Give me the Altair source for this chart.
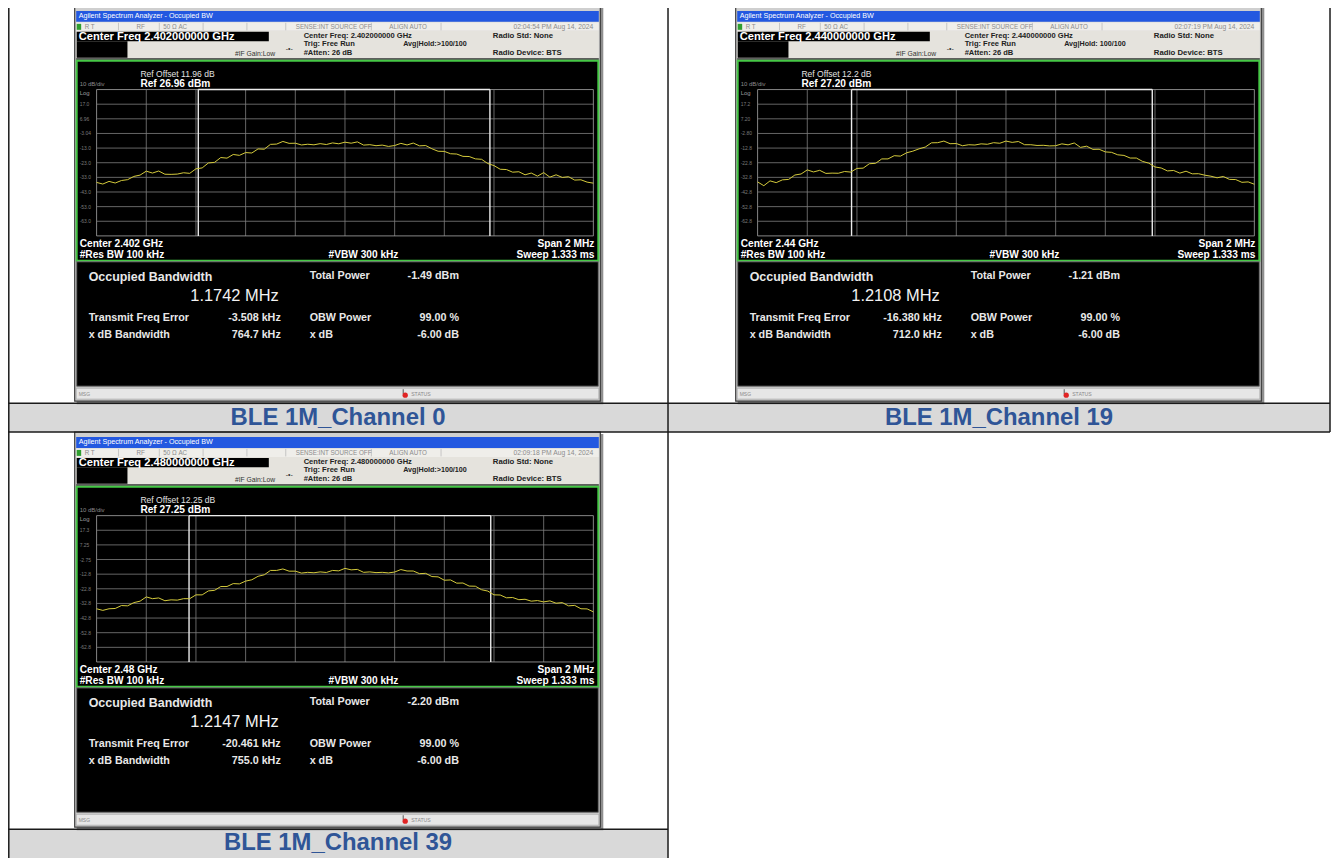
import altair as alt
import pandas as pd

# ---------------- data ----------------
captions = ["BLE 1M_Channel 0", "BLE 1M_Channel 19", "BLE 1M_Channel 39"]
center_freq = ["2.402000000 GHz", "2.440000000 GHz", "2.480000000 GHz"]
center_short = ["2.402 GHz", "2.44 GHz", "2.48 GHz"]
ref_offset_db = ["11.96", "12.2", "12.25"]
ref_level_dbm = [26.96, 27.20, 27.25]
ref_level_text = ["26.96", "27.20", "27.25"]
timestamps = ["02:04:54 PM Aug 14, 2024", "02:07:19 PM Aug 14, 2024", "02:09:18 PM Aug 14, 2024"]
avg_hold = ["Avg|Hold:>100/100", "Avg|Hold: 100/100", "Avg|Hold:>100/100"]
obw_mhz = [1.1742, 1.2108, 1.2147]
obw_text = ["1.1742 MHz", "1.2108 MHz", "1.2147 MHz"]
total_power = ["-1.49 dBm", "-1.21 dBm", "-2.20 dBm"]
freq_error_khz = [-3.508, -16.380, -20.461]
freq_error_text = ["-3.508 kHz", "-16.380 kHz", "-20.461 kHz"]
xdb_bandwidth = ["764.7 kHz", "712.0 kHz", "755.0 kHz"]
obw_power = ["99.00 %", "99.00 %", "99.00 %"]
xdb_value = ["-6.00 dB", "-6.00 dB", "-6.00 dB"]
ylabels_ch0 = ["17.0", "6.96", "-3.04", "-13.0", "-23.0", "-33.0", "-43.0", "-53.0", "-63.0"]
ylabels_ch19 = ["17.2", "7.20", "-2.80", "-12.8", "-22.8", "-32.8", "-42.8", "-52.8", "-62.8"]
ylabels_ch39 = ["17.3", "7.25", "-2.75", "-12.8", "-22.8", "-32.8", "-42.8", "-52.8", "-62.8"]

# frequency offset from centre (MHz), span 2 MHz
freq_offset_mhz = [round(-1 + 0.025 * i, 3) for i in range(81)]

trace_ch0 = [-36.5, -37.6, -35.8, -36.9, -35.2, -34.6, -32.4, -31.5, -28.8, -30.1,
             -28.7, -30.9, -31.0, -30.8, -29.9, -30.3, -27.2, -26.6, -23.2, -22.8,
             -19.5, -19.9, -17.4, -18.0, -16.1, -16.4, -13.6, -13.8, -10.5, -10.3,
             -8.5, -9.8, -9.7, -10.9, -10.4, -10.8, -10.0, -10.6, -9.5, -10.1,
             -9.0, -9.7, -8.8, -11.0, -10.7, -11.4, -11.0, -11.9, -11.3, -9.8,
             -10.9, -9.6, -11.5, -11.3, -13.5, -15.2, -15.3, -16.9, -17.1, -18.7,
             -18.8, -20.4, -20.7, -23.6, -25.0, -27.5, -27.7, -29.5, -29.2, -31.3,
             -30.1, -32.2, -29.8, -32.9, -31.3, -33.1, -32.6, -34.9, -34.7, -36.3,
             -37.0]
trace_ch19 = [-35.9, -38.5, -35.2, -36.4, -34.5, -34.2, -31.2, -30.5, -27.7, -29.1,
              -28.0, -30.1, -29.9, -30.0, -28.8, -29.2, -26.7, -26.5, -23.5, -23.2,
              -20.2, -20.2, -18.0, -18.3, -16.0, -14.9, -13.3, -12.1, -9.2, -9.1,
              -8.0, -9.8, -9.7, -11.2, -10.5, -10.7, -9.9, -10.2, -9.1, -9.5,
              -8.0, -8.9, -8.3, -10.5, -10.5, -11.0, -10.9, -11.3, -11.2, -9.9,
              -10.6, -9.3, -12.3, -11.5, -13.7, -13.6, -15.4, -15.7, -17.4, -17.8,
              -19.6, -19.6, -21.9, -23.1, -25.7, -26.4, -28.4, -28.1, -29.9, -28.6,
              -30.4, -30.3, -31.3, -32.0, -33.1, -32.2, -34.2, -34.3, -36.2, -35.9,
              -37.5]
trace_ch39 = [-36.4, -37.5, -36.4, -36.2, -34.2, -34.4, -32.2, -31.2, -28.3, -29.5,
              -29.0, -30.9, -30.3, -30.5, -29.5, -29.5, -26.9, -26.9, -24.2, -23.8,
              -21.2, -21.2, -19.2, -19.4, -17.5, -16.6, -14.2, -13.2, -10.2, -10.2,
              -9.2, -10.7, -10.7, -12.0, -11.5, -11.8, -11.2, -11.6, -10.2, -10.5,
              -8.8, -9.8, -9.5, -11.5, -11.2, -11.7, -11.5, -11.9, -11.3, -9.6,
              -10.6, -10.6, -12.4, -12.2, -14.4, -14.6, -16.9, -16.7, -18.9, -18.8,
              -20.9, -21.0, -23.4, -24.3, -26.9, -27.0, -28.9, -28.7, -30.2, -29.9,
              -31.2, -30.8, -31.7, -31.0, -32.6, -32.2, -34.4, -34.1, -36.4, -36.5,
              -38.5]

traces = [trace_ch0, trace_ch19, trace_ch39]
ylabels = [ylabels_ch0, ylabels_ch19, ylabels_ch39]

# ---------------- layout ----------------
OFF = 8  # page margin
FONT = "Liberation Sans, Arial, Helvetica, sans-serif"
rects, rules, texts, dots = [], [], [], []


def R(x, x2, y, y2, fill, stroke="transparent", sw=0):
    rects.append(dict(x=x - OFF, x2=x2 - OFF, y=y - OFF, y2=y2 - OFF,
                      fill=fill, stroke=stroke, sw=sw))


def L(x, x2, y, y2, color, sw=1.0):
    rules.append(dict(x=x - OFF, x2=x2 - OFF, y=y - OFF, y2=y2 - OFF, color=color, sw=sw))


def T(x, y, text, size, color, align="left", weight="normal"):
    texts.append(dict(x=x - OFF, y=y - OFF, text=text, size=size, color=color,
                      align=align, weight=weight))


# table
R(8, 1336, 403, 432, "#d9d9d9")
R(8, 671, 831, 860, "#d9d9d9")

panel_layers = []


def screen(i, ox, oy):
    # frame + shadow
    R(ox + 2, ox + 531, oy + 2, oy + 400, "#8f8f8f")
    R(ox, ox + 528, oy, oy + 397, "#cfcfcf", "#3c3c3c", 1.2)
    # title bar
    R(ox + 1.5, ox + 526.5, oy + 5, oy + 16, "#2358e0")
    T(ox + 4, oy + 10.5, "Agilent Spectrum Analyzer - Occupied BW", 7.2, "#ffffff")
    # status row
    R(ox + 1.5, ox + 526.5, oy + 16.5, oy + 25, "#efeeea")
    R(ox + 2, ox + 6.5, oy + 18, oy + 24, "#2f9e2f")
    for sx in [44, 85, 129, 173, 212, 298, 368]:
        L(ox + sx, ox + sx, oy + 17, oy + 24.5, "#b4b4b4", 0.7)
    sc = "#8c8c8c"
    T(ox + 10, oy + 21, "R   T", 6.3, sc)
    T(ox + 62, oy + 21, "RF", 6.3, sc)
    T(ox + 89, oy + 21, "50 Ω   AC", 6.3, sc)
    T(ox + 222, oy + 21, "SENSE:INT SOURCE OFF", 6.3, sc)
    T(ox + 316, oy + 21, "ALIGN AUTO", 6.3, sc)
    T(ox + 521, oy + 21, timestamps[i], 6.8, sc, "right")
    # header
    R(ox + 1.5, ox + 526.5, oy + 25, oy + 53, "#e5e3dd")
    R(ox + 2, ox + 195, oy + 26, oy + 35.5, "#000000")
    T(ox + 4, oy + 31, "Center Freq " + center_freq[i], 11.2, "#ffffff", weight="bold")
    R(ox + 2, ox + 53, oy + 35.5, oy + 52, "#000000")
    hc = "#222222"
    T(ox + 161, oy + 48.5, "#IF Gain:Low", 6.8, "#333333")
    T(ox + 212, oy + 43, "-•-", 7, "#333333")
    T(ox + 230, oy + 30, "Center Freq: " + center_freq[i], 7.6, hc, weight="bold")
    T(ox + 230, oy + 38.5, "Trig: Free Run", 7.6, hc, weight="bold")
    T(ox + 230, oy + 47, "#Atten: 26 dB", 7.6, hc, weight="bold")
    T(ox + 330, oy + 38.5, avg_hold[i], 7.2, hc, weight="bold")
    T(ox + 420, oy + 30, "Radio Std: None", 7.8, hc, weight="bold")
    T(ox + 420, oy + 47, "Radio Device: BTS", 7.8, hc, weight="bold")
    # plot area
    R(ox + 1.5, ox + 526.5, oy + 52.5, oy + 54, "#333333")
    R(ox + 2, ox + 526, oy + 55, oy + 256, "#000000", "#46c846", 2)
    T(ox + 66, oy + 68, "Ref Offset " + ref_offset_db[i] + " dB", 8.6, "#e0e0e0")
    T(ox + 66, oy + 78, "Ref " + ref_level_text[i] + " dBm", 10.2, "#ffffff", weight="bold")
    T(ox + 5, oy + 78, "10 dB/div", 6, "#8a8a8a")
    T(ox + 5, oy + 87, "Log", 6, "#9a9a9a")
    gx0, gx1, gy0, gy1 = ox + 22, ox + 521, oy + 84, oy + 231
    for k in range(11):
        xx = gx0 + k * (gx1 - gx0) / 10
        yy = gy0 + k * (gy1 - gy0) / 10
        col = "#a8a8a8" if k in (0, 10) else "#808080"
        L(xx, xx, gy0, gy1, col, 0.8)
        L(gx0, gx1, yy, yy, col, 0.8)
    for k, lab in enumerate(ylabels[i], start=1):
        T(ox + 5, gy0 + k * (gy1 - gy0) / 10, lab, 5, "#7a7a7a")
    T(ox + 5, oy + 239, "Center  " + center_short[i], 10.2, "#ffffff", weight="bold")
    T(ox + 5, oy + 250, "#Res BW  100 kHz", 10.2, "#ffffff", weight="bold")
    T(ox + 255, oy + 250, "#VBW  300 kHz", 10.2, "#ffffff", weight="bold")
    T(ox + 522, oy + 239, "Span 2 MHz", 10.2, "#ffffff", "right", "bold")
    T(ox + 522, oy + 250, "Sweep  1.333 ms", 10.2, "#ffffff", "right", "bold")
    # info panel
    R(ox + 2, ox + 526, oy + 257, oy + 382, "#000000", "#6e6e6e", 1)
    ic = "#e8e8e8"
    T(ox + 14, oy + 272, "Occupied Bandwidth", 12.5, ic, weight="bold")
    T(ox + 205, oy + 291, obw_text[i], 16.5, "#f2f2f2", "right")
    T(ox + 236, oy + 271, "Total Power", 10.8, ic, weight="bold")
    T(ox + 386, oy + 271, total_power[i], 10.8, ic, "right", "bold")
    T(ox + 14, oy + 313, "Transmit Freq Error", 10.8, ic, weight="bold")
    T(ox + 207, oy + 313, freq_error_text[i], 10.8, ic, "right", "bold")
    T(ox + 236, oy + 313, "OBW Power", 10.8, ic, weight="bold")
    T(ox + 386, oy + 313, obw_power[i], 10.8, ic, "right", "bold")
    T(ox + 14, oy + 331, "x dB Bandwidth", 10.8, ic, weight="bold")
    T(ox + 207, oy + 331, xdb_bandwidth[i], 10.8, ic, "right", "bold")
    T(ox + 236, oy + 331, "x dB", 10.8, ic, weight="bold")
    T(ox + 386, oy + 331, xdb_value[i], 10.8, ic, "right", "bold")
    # message bar
    R(ox + 1.5, ox + 526.5, oy + 384, oy + 395, "#e6e6e6", "#9a9a9a", 0.6)
    T(ox + 4, oy + 389.5, "MSG", 5, "#8a8a8a")
    T(ox + 338, oy + 389.5, "STATUS", 5.2, "#8a8a8a")
    L(ox + 330, ox + 330, oy + 385, oy + 390, "#555555", 1)
    dots.append(dict(x=ox + 332 - OFF, y=oy + 391 - OFF))

    # data-driven layers: trace + OBW markers through the panel's own scales
    xs = alt.Scale(domain=[-1, 1], range=[gx0 - OFF, gx1 - OFF], nice=False, zero=False)
    ref = ref_level_dbm[i]
    ys = alt.Scale(domain=[ref - 100, ref], range=[gy1 - OFF, gy0 - OFF], nice=False, zero=False)
    fe = freq_error_khz[i] / 1000.0
    fl, fr = fe - obw_mhz[i] / 2, fe + obw_mhz[i] / 2
    mk = pd.DataFrame({"f": [fl, fr]})
    panel_layers.append(
        alt.Chart(mk).mark_rule(color="#ececec", strokeWidth=1.4).encode(
            x=alt.X("f:Q", scale=xs, axis=None),
            y=alt.value(gy0 - OFF), y2=alt.value(gy1 - OFF)))
    top = pd.DataFrame({"f": [fl], "f2": [fr]})
    panel_layers.append(
        alt.Chart(top).mark_rule(color="#ececec", strokeWidth=1.4).encode(
            x=alt.X("f:Q", scale=xs, axis=None), x2="f2:Q",
            y=alt.value(gy0 - OFF)))
    df = pd.DataFrame({"f": freq_offset_mhz, "dbm": traces[i]})
    panel_layers.append(
        alt.Chart(df).mark_line(color="#d6cc3c", strokeWidth=1).encode(
            x=alt.X("f:Q", scale=xs, axis=None),
            y=alt.Y("dbm:Q", scale=ys, axis=None)))


screen(0, 75, 4)
screen(1, 739, 4)
screen(2, 75, 432)

# table borders
L(8.8, 8.8, 0, 860, "#1a1a1a", 1.5)
L(671, 671, 0, 860, "#1a1a1a", 1.5)
L(1336, 1336, 0, 432, "#1a1a1a", 1.5)
L(8, 1336, 403, 403, "#1a1a1a", 1.5)
L(8, 1336, 432, 432, "#1a1a1a", 1.5)
L(8, 671, 831, 831, "#1a1a1a", 1.5)

# captions
T(339.5, 418, captions[0], 24, "#2f5597", "center", "bold")
T(1003.5, 418, captions[1], 24, "#2f5597", "center", "bold")
T(339.5, 845, captions[2], 24, "#2f5597", "center", "bold")

# ---------------- charts ----------------
px = lambda f: alt.X(f, scale=None, axis=None)
py = lambda f: alt.Y(f, scale=None, axis=None)

rect_layer = alt.Chart(pd.DataFrame(rects)).mark_rect().encode(
    x=px("x:Q"), x2="x2:Q", y=py("y:Q"), y2="y2:Q",
    color=alt.Color("fill:N", scale=None),
    stroke=alt.Stroke("stroke:N", scale=None),
    strokeWidth=alt.StrokeWidth("sw:Q", scale=None))

rule_layer = alt.Chart(pd.DataFrame(rules)).mark_rule().encode(
    x=px("x:Q"), x2="x2:Q", y=py("y:Q"), y2="y2:Q",
    color=alt.Color("color:N", scale=None),
    strokeWidth=alt.StrokeWidth("sw:Q", scale=None))

dot_layer = alt.Chart(pd.DataFrame(dots)).mark_circle(color="#e02424", size=28, opacity=1).encode(
    x=px("x:Q"), y=py("y:Q"))

tdf = pd.DataFrame(texts)
text_layers = []
for (al, wt), g in tdf.groupby(["align", "weight"]):
    text_layers.append(
        alt.Chart(g.reset_index(drop=True)).mark_text(
            align=al, baseline="middle", fontWeight=wt, font=FONT).encode(
            x=px("x:Q"), y=py("y:Q"), text="text:N",
            color=alt.Color("color:N", scale=None),
            size=alt.Size("size:Q", scale=None)))

chart = alt.layer(rect_layer, rule_layer, *panel_layers, dot_layer, *text_layers).resolve_scale(
    x="independent", y="independent"
).properties(
    width=1330, height=850, autosize=alt.AutoSizeParams(type="none"), padding=0,
    background="white"
).configure_view(strokeWidth=0)

chart.save("out.html", embed_options={"renderer": "svg", "actions": False})
